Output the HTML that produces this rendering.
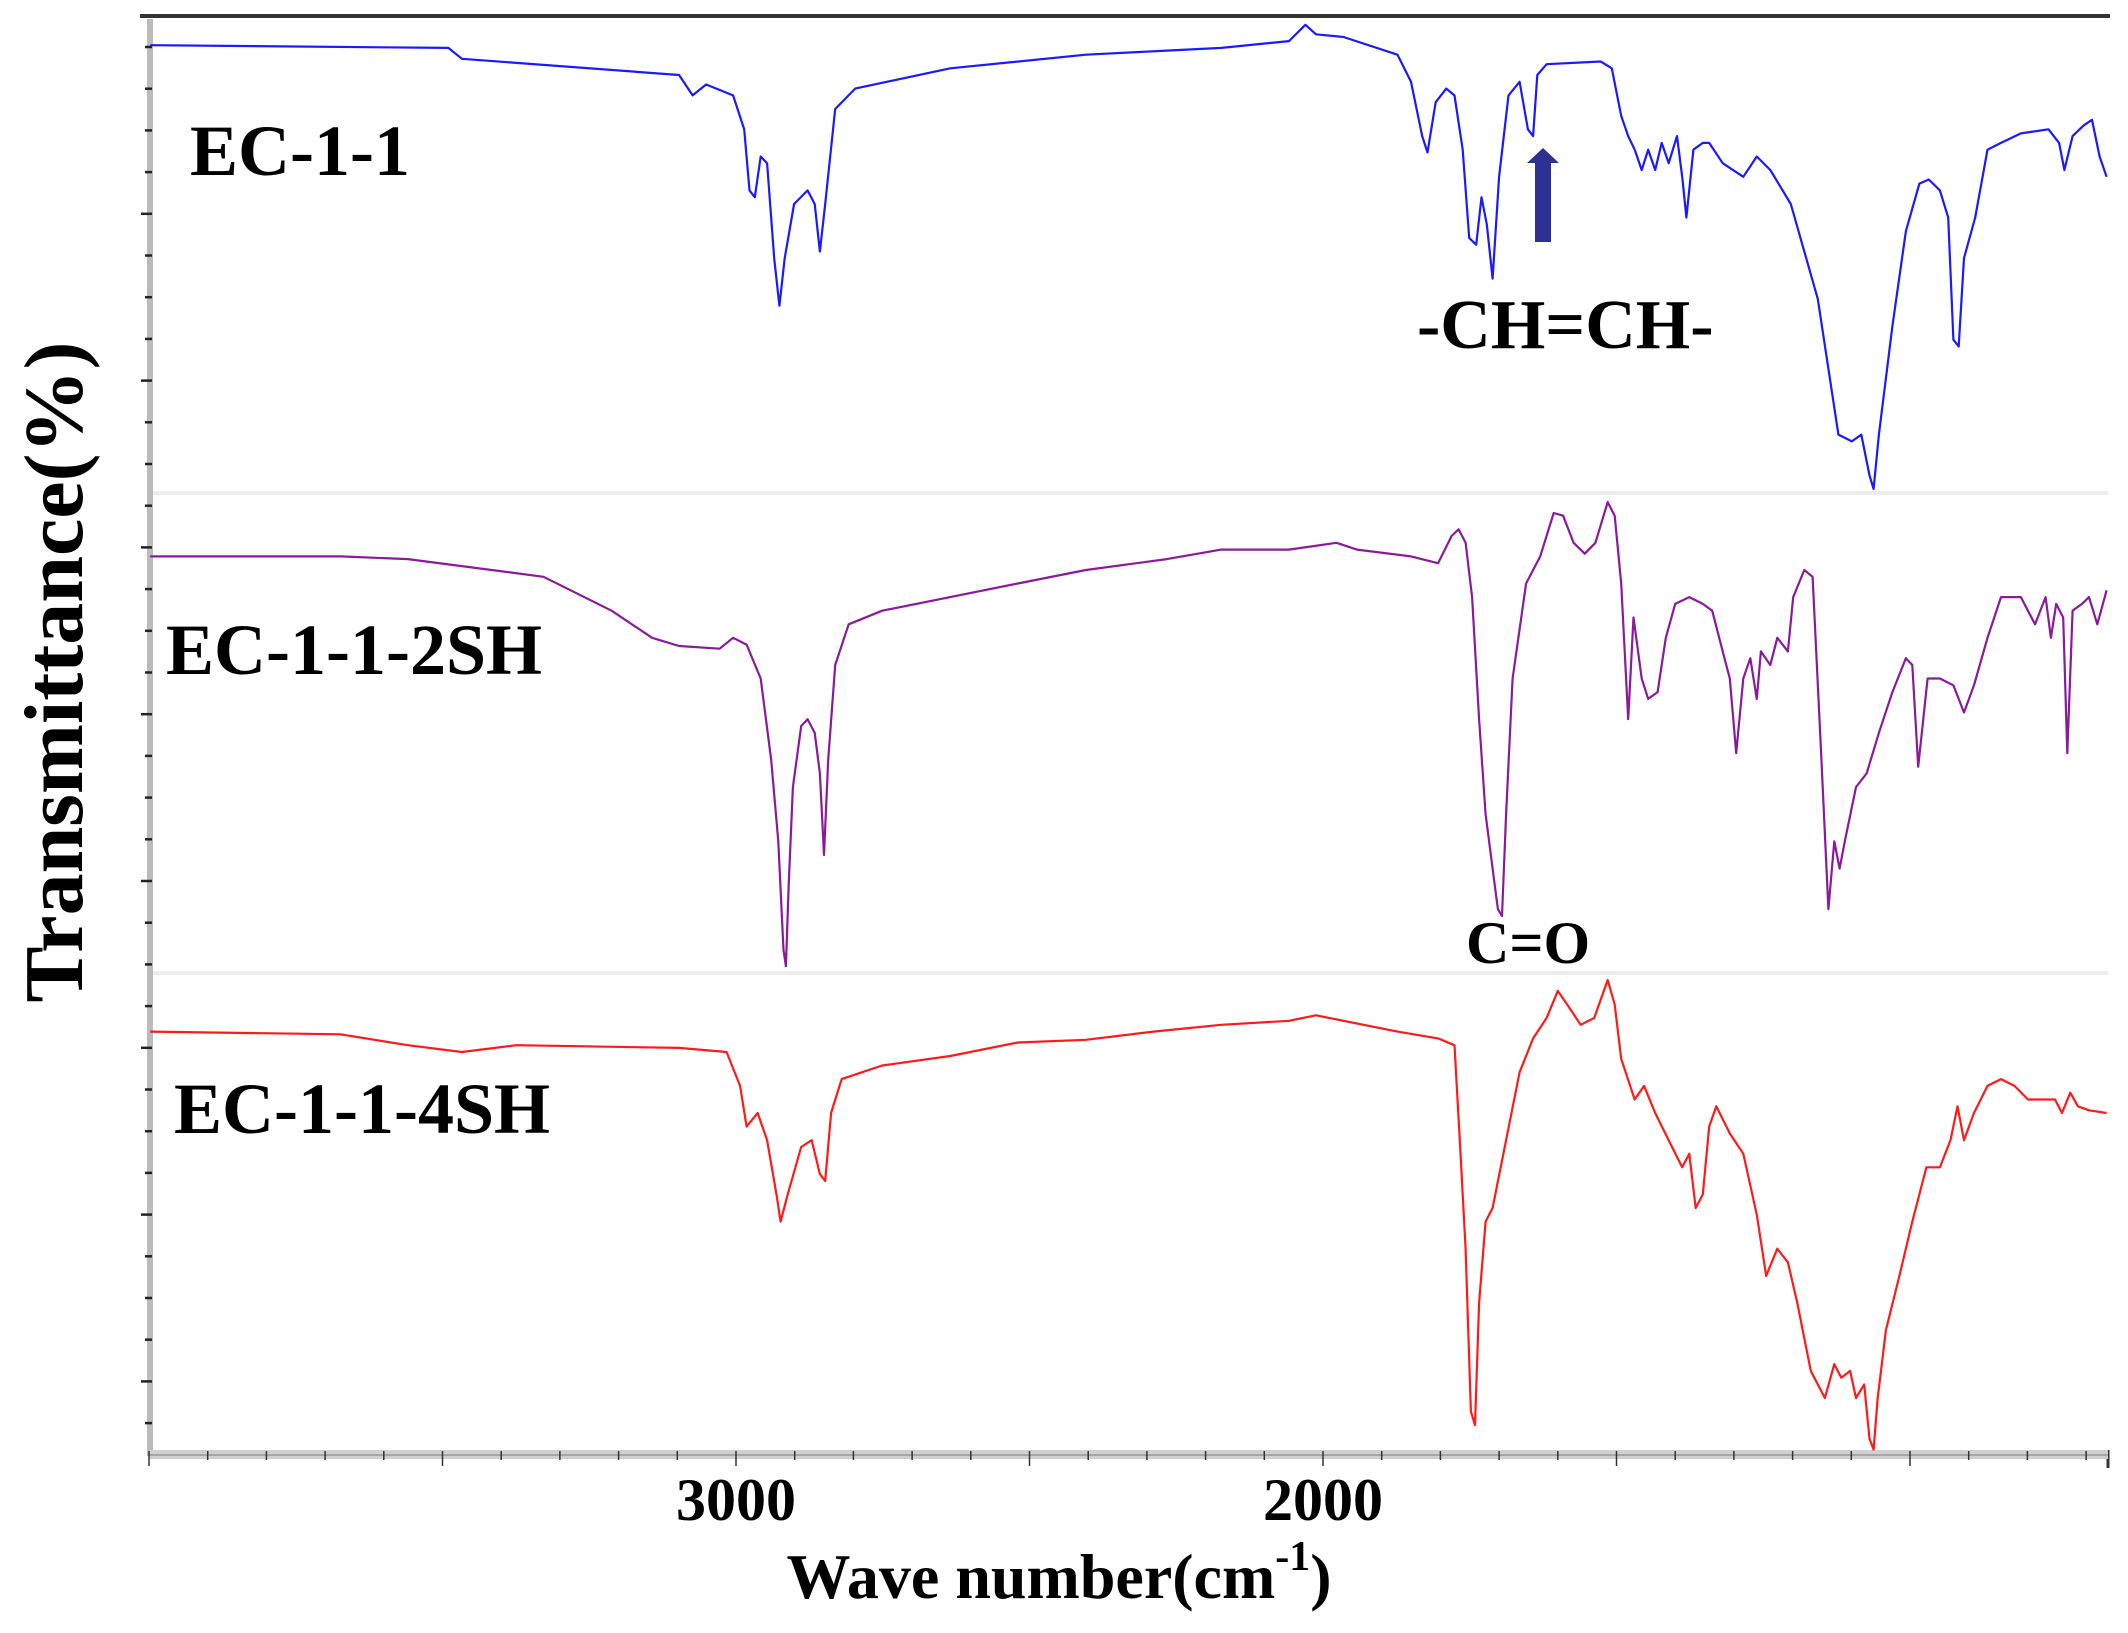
<!DOCTYPE html>
<html><head><meta charset="utf-8"><style>
html,body{margin:0;padding:0;background:#fff}
svg{display:block}
text{font-family:"Liberation Serif",serif;font-weight:bold;fill:#000}
</style></head><body>
<svg id="chart" width="2128" height="1633" viewBox="0 0 2128 1633" xmlns="http://www.w3.org/2000/svg">
<g id="frame"></g>
<g id="series"></g>
<text x="190" y="175" font-size="72">EC-1-1</text>
<text x="166" y="674" font-size="72">EC-1-1-2SH</text>
<text x="174" y="1133" font-size="72">EC-1-1-4SH</text>
<text x="1417" y="348" font-size="70">-CH=CH-</text>
<text x="1466" y="963" font-size="60">C=O</text>
<polygon points="1543,148 1559,163 1551,163 1551,242 1535,242 1535,163 1527,163" fill="#2e3192"/>
<text x="0" y="0" font-size="84" text-anchor="middle" transform="translate(82,672) rotate(-90)">Transmittance(%)</text>
<text x="1059" y="1598" font-size="64" text-anchor="middle">Wave number(cm<tspan font-size="42" dy="-28">-1</tspan><tspan dy="28">)</tspan></text>
</svg>
<script>
const blueWn=[3998,3490,3467,3097,3074,3051,3005,2986,2977,2968,2958,2947,2935,2926,2917,2901,2878,2866,2857,2848,2831,2797,2635,2404,2266,2173,2058,2030,2012,1965,1873,1850,1831,1822,1808,1790,1776,1762,1751,1739,1730,1721,1711,1700,1684,1665,1651,1642,1635,1619,1527,1508,1492,1480,1469,1457,1446,1434,1423,1411,1397,1388,1381,1369,1353,1342,1319,1284,1261,1238,1203,1157,1122,1099,1083,1069,1062,1053,1030,1007,984,968,949,935,926,917,908,889,868,845,811,764,746,737,723,704,690,677,665];
const blueT=[330,328,320,308,293,301,293,268,223,218,248,243,173,138,173,213,223,213,178,213,283,298,313,323,326,328,333,345,338,336,323,303,263,251,288,298,293,253,188,183,218,198,158,233,293,303,268,263,308,316,318,313,278,263,253,238,253,238,258,243,263,233,203,253,258,258,243,233,248,238,213,143,43,38,43,13,3,43,123,193,228,231,223,203,113,108,173,203,253,258,265,268,258,238,263,271,275,248,233];
const purpleWn=[3998,3674,3559,3328,3212,3143,3097,3028,3005,2982,2958,2940,2928,2919,2915,2910,2903,2889,2878,2866,2857,2850,2843,2831,2808,2751,2635,2520,2404,2266,2173,2058,1977,1942,1850,1804,1781,1769,1757,1746,1734,1723,1711,1702,1695,1688,1677,1654,1630,1607,1591,1573,1554,1536,1515,1503,1492,1480,1471,1457,1446,1430,1416,1400,1376,1353,1337,1319,1307,1296,1284,1272,1261,1254,1238,1226,1208,1199,1180,1166,1152,1139,1129,1120,1111,1092,1074,1053,1030,1007,996,986,970,949,926,908,891,868,845,811,787,769,760,751,739,732,723,707,695,681,665];
const purpleT=[307,307,305,292,267,247,241,239,247,242,217,157,97,17,5,67,137,182,187,177,147,87,157,227,257,267,277,287,297,305,312,312,317,312,307,302,322,327,317,277,187,117,77,47,42,117,217,287,307,339,337,317,309,317,347,337,287,187,262,217,202,207,247,272,277,272,267,237,217,162,217,232,202,237,227,247,237,277,297,292,167,47,97,77,97,137,147,177,207,232,227,152,217,217,212,192,212,247,277,277,257,277,247,272,262,162,267,272,277,257,282];
const redWn=[3998,3674,3559,3467,3374,3097,3016,2993,2982,2963,2947,2931,2924,2912,2889,2871,2857,2848,2838,2820,2751,2635,2520,2404,2289,2173,2058,2012,1965,1873,1804,1776,1767,1757,1748,1741,1734,1723,1711,1688,1665,1642,1619,1600,1584,1561,1538,1515,1503,1492,1469,1453,1434,1411,1388,1376,1365,1353,1342,1330,1307,1284,1261,1245,1226,1208,1192,1169,1145,1129,1117,1102,1092,1078,1069,1062,1055,1041,1018,996,972,949,931,919,908,891,868,845,822,799,776,753,741,727,714,695,665];
const redT=[312,310,302,297,302,300,297,272,242,252,232,192,172,192,227,232,207,202,252,277,287,294,304,306,312,317,320,324,320,312,307,302,232,152,32,22,112,172,182,232,282,307,322,342,332,317,322,350,332,292,262,272,252,232,212,222,182,192,242,257,237,222,177,132,152,142,112,62,42,67,57,62,42,52,12,4,42,92,132,172,212,212,232,257,232,252,272,277,272,262,262,262,252,267,257,254,252];
const xTicks=[4000,3900,3800,3700,3600,3500,3400,3300,3200,3100,3000,2900,2800,2700,2600,2500,2400,2300,2200,2100,2000,1900,1800,1700,1600,1500,1400,1300,1200,1100,1000,900,800,700];
const xMajor=[3500,3000,2500,2000,1500,1000];
const xLabels=[3000,2000];

const NS='http://www.w3.org/2000/svg';
function xs(w){return 149+(4000-w)*0.587;}
const panelBottoms=[493,973,1455];
const K=1.357;
function ys(t,p){return panelBottoms[p]-t*K;}
function mk(tag,attrs,parent){const e=document.createElementNS(NS,tag);for(const k in attrs)e.setAttribute(k,attrs[k]);parent.appendChild(e);return e;}
const frame=document.getElementById('frame');
const series=document.getElementById('series');
[493,973].forEach(y=>{const l=mk('line',{x1:153,x2:2108,y1:y,y2:y,stroke:'#ececec','stroke-width':4},frame);

});
let t=mk('line',{x1:140,x2:2110,y1:16,y2:16,stroke:'#333','stroke-width':4},frame);


let r=mk('line',{x1:2108,x2:2108,y1:1450,y2:1468,stroke:'#333','stroke-width':3},frame);


let la=mk('line',{x1:150,x2:150,y1:19,y2:1456,stroke:'#bbb','stroke-width':6},frame);


for(let i=0;47+i*41.7<1450;i++){const y=47+i*41.7;const maj=(i%4===0&&i>0);const tk=mk('line',{x1:maj?141:145,x2:152,y1:y,y2:y,stroke:'#222','stroke-width':2.5},frame);

}
let ba=mk('rect',{x:149,y:1450,width:1959,height:9,fill:'#d0d0d0'},frame);


let bl=mk('line',{x1:149,x2:2108,y1:1455,y2:1455,stroke:'#999','stroke-width':1.5},frame);


xTicks.forEach(w=>{const maj=xMajor.includes(w)||w===4000;const tk=mk('line',{x1:xs(w),x2:xs(w),y1:1451,y2:maj?1466:1460,stroke:'#333','stroke-width':1.5},frame);

});
xLabels.forEach(w=>{const tx=mk('text',{x:xs(w),y:1520,'font-size':60,'text-anchor':'middle'},frame);tx.textContent=String(w);

});
function draw(wn,tv,p,color,name){let d='';for(let i=0;i<wn.length;i++){d+=(i?'L':'M')+xs(wn[i]).toFixed(1)+','+ys(tv[i],p).toFixed(1);}
const path=mk('path',{d:d,fill:'none',stroke:color,'stroke-width':2.2,'stroke-linejoin':'round'},series);

}
draw(blueWn,blueT,0,'#1a1aff','spectrum-ec-1-1');
draw(purpleWn,purpleT,1,'#8b1a9b','spectrum-ec-1-1-2sh');
draw(redWn,redT,2,'#ff1a1a','spectrum-ec-1-1-4sh');
</script>
</body></html>
